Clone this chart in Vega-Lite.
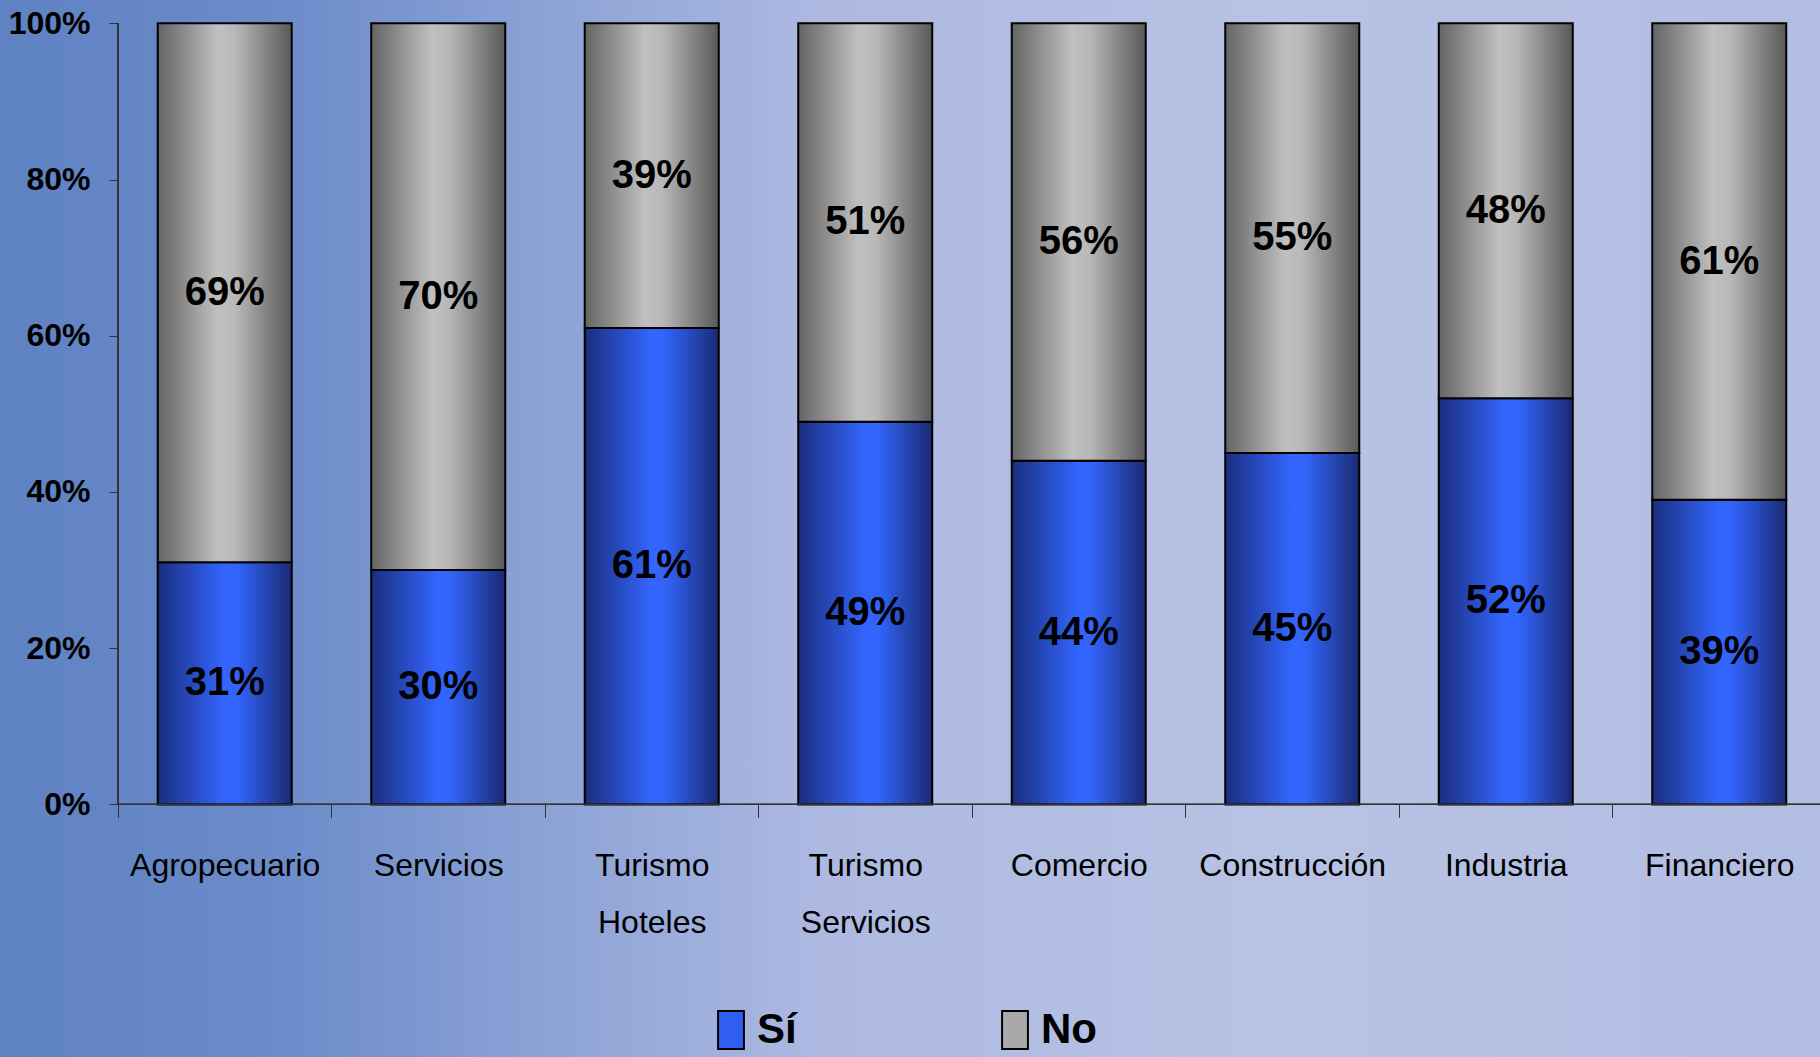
{
  "$schema": "https://vega.github.io/schema/vega-lite/v6.json",
  "width": 1826,
  "height": 1057,
  "autosize": {"type": "none"},
  "padding": 0,
  "background": "#9aacd9",
  "config": {
    "font": "Liberation Sans",
    "view": {
      "stroke": null,
      "fill": {
        "gradient": "linear", "x1": 0, "y1": 0, "x2": 1, "y2": 0,
        "stops": [
          {"offset": 0, "color": "#5f82c3"},
          {"offset": 0.15, "color": "#6b8bc9"},
          {"offset": 0.3, "color": "#8ca3d6"},
          {"offset": 0.45, "color": "#adb9e1"},
          {"offset": 0.7, "color": "#b8c2e4"},
          {"offset": 1, "color": "#b2bde2"}
        ]
      }
    }
  },
  "data": {
    "values": [
      {"sector": "Agropecuario", "answer": "Sí", "value": 0.31},
      {"sector": "Agropecuario", "answer": "No", "value": 0.69},
      {"sector": "Servicios", "answer": "Sí", "value": 0.30},
      {"sector": "Servicios", "answer": "No", "value": 0.70},
      {"sector": "Turismo Hoteles", "answer": "Sí", "value": 0.61},
      {"sector": "Turismo Hoteles", "answer": "No", "value": 0.39},
      {"sector": "Turismo Servicios", "answer": "Sí", "value": 0.49},
      {"sector": "Turismo Servicios", "answer": "No", "value": 0.51},
      {"sector": "Comercio", "answer": "Sí", "value": 0.44},
      {"sector": "Comercio", "answer": "No", "value": 0.56},
      {"sector": "Construcción", "answer": "Sí", "value": 0.45},
      {"sector": "Construcción", "answer": "No", "value": 0.55},
      {"sector": "Industria", "answer": "Sí", "value": 0.52},
      {"sector": "Industria", "answer": "No", "value": 0.48},
      {"sector": "Financiero", "answer": "Sí", "value": 0.39},
      {"sector": "Financiero", "answer": "No", "value": 0.61}
    ]
  },
  "layer": [
    {
      "mark": {"type": "bar", "stroke": "black", "strokeWidth": 2, "width": 134},
      "encoding": {
        "x": {
          "field": "sector", "type": "nominal", "sort": null, "title": null,
          "scale": {"paddingInner": 0, "paddingOuter": 0.2763, "align": 1},
          "axis": {
            "offset": -252.6,
            "domain": false,
            "labelExpr": "split(datum.label, ' ')",
            "labelAngle": 0,
            "labelFontSize": 32,
            "labelColor": "black",
            "labelPadding": 33,
            "labelLineHeight": 57,
            "labelLimit": 400,
            "tickSize": 13,
            "tickBand": "extent",
            "tickColor": "#333333",
            "grid": false
          }
        },
        "y": {
          "field": "value", "type": "quantitative", "stack": "zero", "title": null,
          "scale": {"domain": [-0.3233, 1.0298], "nice": false, "zero": false},
          "axis": {
            "offset": -118,
            "domain": false,
            "values": [0, 0.2, 0.4, 0.6, 0.8, 1],
            "format": ".0%",
            "labelFontSize": 32,
            "labelFontWeight": "bold",
            "labelColor": "black",
            "labelPadding": 19,
            "tickSize": 9,
            "tickColor": "#333333",
            "grid": false
          }
        },
        "fill": {
          "field": "answer", "type": "nominal",
          "scale": {"domain": ["Sí", "No"], "range": ["#2f5ef0", "#a9a9a9"]},
          "condition": [
            {"test": "datum.answer === 'Sí'",
             "value": {"gradient": "linear", "x1": 0, "y1": 0, "x2": 1, "y2": 0,
               "stops": [
                 {"offset": 0, "color": "#1a2e7e"},
                 {"offset": 0.5, "color": "#3366ff"},
                 {"offset": 0.6, "color": "#3264fa"},
                 {"offset": 1, "color": "#1a2a72"}
               ]}},
            {"test": "datum.answer === 'No'",
             "value": {"gradient": "linear", "x1": 0, "y1": 0, "x2": 1, "y2": 0,
               "stops": [
                 {"offset": 0, "color": "#646464"},
                 {"offset": 0.45, "color": "#c0c0c0"},
                 {"offset": 0.58, "color": "#b8b8b8"},
                 {"offset": 1, "color": "#595959"}
               ]}}
          ],
          "legend": {
            "title": null,
            "orient": "none",
            "legendX": 710,
            "legendY": 1009,
            "direction": "horizontal",
            "padding": 0,
            "labelFontSize": 42,
            "labelFontWeight": "bold",
            "labelColor": "black",
            "labelOffset": 5,
            "columnPadding": 197,
            "symbolType": "M-0.68,-1H0.68V1H-0.68Z",
            "symbolSize": 1444,
            "symbolStrokeColor": "black",
            "symbolStrokeWidth": 2
          }
        },
        "order": {"field": "answer", "sort": "descending"}
      }
    },
    {
      "mark": {"type": "rule", "color": "#333333", "strokeWidth": 1},
      "encoding": {
        "x": {"datum": "Agropecuario", "type": "nominal", "bandPosition": 0},
        "x2": {"datum": "Financiero", "bandPosition": 1},
        "y": {"datum": 0, "type": "quantitative"}
      }
    },
    {
      "mark": {"type": "rule", "color": "#333333", "strokeWidth": 1},
      "encoding": {
        "x": {"datum": "Agropecuario", "type": "nominal", "bandPosition": 0},
        "y": {"datum": 0, "type": "quantitative"},
        "y2": {"datum": 1}
      }
    },
    {
      "mark": {"type": "text", "fontSize": 40, "fontWeight": "bold", "color": "black", "baseline": "middle"},
      "encoding": {
        "x": {"field": "sector", "type": "nominal", "sort": null},
        "y": {"field": "value", "type": "quantitative", "stack": "zero", "bandPosition": 0.5},
        "detail": {"field": "answer"},
        "order": {"field": "answer", "sort": "descending"},
        "text": {"field": "value", "type": "quantitative", "format": ".0%"}
      }
    }
  ]
}
